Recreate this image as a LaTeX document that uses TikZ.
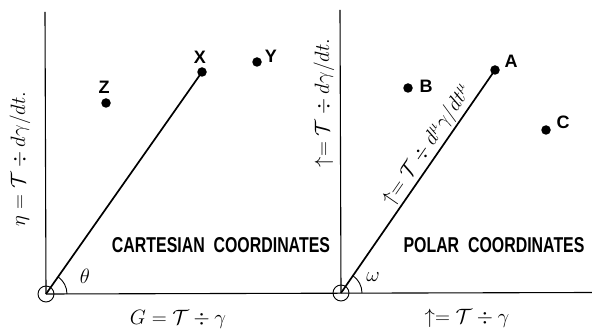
\documentclass[tikz,border=0pt]{standalone}
\usepackage{fontspec}
\setmainfont{Liberation Sans}
\usepackage{graphicx}
\begin{document}
\begin{tikzpicture}[x=1pt,y=1pt,
  axis/.style={line width=1.1pt},
  ray/.style={line width=1.7pt},
  dotpt/.style={circle,fill=black,inner sep=0pt,minimum size=9.5pt},
  lbl/.style={font=\fontsize{18}{18}\selectfont\bfseries},
  ttl/.style={font=\fontsize{21.5}{21.5}\selectfont\bfseries},
  mlbl/.style={font=\fontsize{20}{20}\selectfont},
  anglbl/.style={font=\fontsize{22}{22}\selectfont},
  vlbl/.style={font=\fontsize{21}{21}\selectfont,rotate=90},
  orig/.style={circle,draw,line width=0.9pt,inner sep=0pt,minimum size=16pt}]
\useasboundingbox (0,0) rectangle (592,335);
% origins
\node[orig] (o1) at (46,41) {};
\node[orig] (o2) at (341,42) {};
\coordinate (hend) at (592,42.5);
\coordinate (v1top) at (45,323);
\coordinate (v2top) at (340,325);
% axes
\draw[axis] (o1.center) -- (hend);
\draw[axis] (o1.center) -- (v1top);
\draw[axis] (o2.center) -- (v2top);
% points
\node[dotpt] (X) at (202,263) {};
\node[dotpt] (Y) at (257,273) {};
\node[dotpt] (Z) at (106,232) {};
\node[dotpt] (A) at (495,265) {};
\node[dotpt] (B) at (408,247) {};
\node[dotpt] (C) at (546,205) {};
\node[lbl] (Xl) at (200,278) {X};
\node[lbl] (Yl) at (271,279) {Y};
\node[lbl] (Zl) at (104,248) {Z};
\node[lbl] (Al) at (511,274) {A};
\node[lbl] (Bl) at (426,249) {B};
\node[lbl] (Cl) at (563,213) {C};
% rays
\draw[ray] (o1.center) -- (X.center);
\draw[ray] (o2.center) -- (A.center)
  node[pos=0.63,sloped,above,inner sep=1.5pt,font=\fontsize{21}{21}\selectfont]
  {$\uparrow = \mathcal{T} \div d^{\mu}\gamma/dt^{\mu}$};
% angle arcs
\draw[line width=0.9pt] (o1.center) ++(21,0) arc[start angle=0,end angle=55,radius=21];
\draw[line width=0.9pt] (o2.center) ++(21,0) arc[start angle=0,end angle=55.5,radius=21];
\node[anglbl] (th) at (85,59) {$\theta$};
\node[anglbl] (om) at (373,58) {$\omega$};
% titles
\node[ttl] (cart) at (221,90) {\scalebox{0.74}[1]{CARTESIAN\ \ COORDINATES}};
\node[ttl] (pol) at (494,90) {\scalebox{0.74}[1]{POLAR\ \ COORDINATES}};
% axis labels
\node[mlbl] (bx1) at (178,16) {$G = \mathcal{T} \div \gamma$};
\node[mlbl] (bx2) at (467,17) {$\uparrow = \mathcal{T} \div \gamma$};
\node[vlbl] (ly1) at (20,176) {$\eta = \mathcal{T} \div d\gamma/dt.$};
\node[vlbl] (ly2) at (324,232) {$\uparrow = \mathcal{T} \div d\gamma/dt.$};
\end{tikzpicture}
\end{document}
